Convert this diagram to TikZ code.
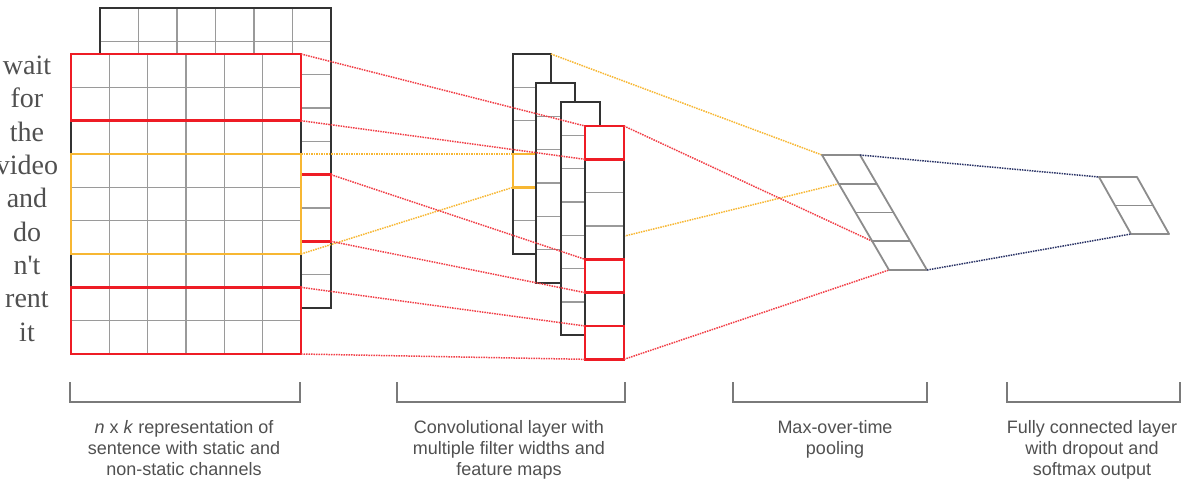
\documentclass[tikz,border=0pt]{standalone}
\usepackage{fontspec}
\setmainfont{Liberation Sans}
\newfontfamily\wordfont{Liberation Serif}
\usepackage{tikz}
\usetikzlibrary{calc}

\definecolor{edgegray}{HTML}{333333}
\definecolor{gridgray}{HTML}{9A9A9A}
\definecolor{boxred}{HTML}{EE1C25}
\definecolor{boxyellow}{HTML}{F7B733}
\definecolor{linknavy}{HTML}{2B3467}
\definecolor{poolgray}{HTML}{8C8C8C}
\definecolor{brgray}{HTML}{7A7A7A}
\definecolor{textgray}{HTML}{505050}

\begin{document}
\begin{tikzpicture}[x=1pt, y=-1pt]
\tikzstyle{sheet}=[rectangle, draw=edgegray, line width=1.8pt, fill=white, inner sep=0pt, outer sep=0pt, anchor=north west]
\tikzstyle{gridline}=[draw=gridgray, line width=1.5pt]
\tikzstyle{border}=[draw=edgegray, line width=1.8pt]
\tikzstyle{redbox}=[rectangle, draw=boxred, line width=2.8pt, inner sep=0pt, outer sep=0pt, anchor=north west]
\tikzstyle{yellowbox}=[redbox, draw=boxyellow]
\tikzstyle{redlink}=[densely dotted, draw=boxred!85, line width=1.5pt]
\tikzstyle{yellowlink}=[redlink, draw=boxyellow]
\tikzstyle{navylink}=[redlink, draw=linknavy]
\tikzstyle{poolline}=[draw=poolgray, line width=1.8pt, line join=round]
\tikzstyle{word}=[font=\wordfont\fontsize{28}{32}\selectfont, text=textgray, anchor=mid]
\tikzstyle{caption}=[font=\fontsize{18}{21}\selectfont, text=textgray, align=center, anchor=north, inner sep=0pt]
\tikzstyle{bracket}=[draw=brgray, line width=1.5pt]

\useasboundingbox (0,0) rectangle (1188,492);

% second channel (behind)
\node[sheet, minimum width=231pt, minimum height=300pt] (back) at (100,8) {};
\foreach \i in {1,...,5} \draw[gridline] (100+\i*38.5,8) -- (100+\i*38.5,308);
\foreach \j in {1,...,8} \draw[gridline] (100,8+\j*33.33) -- (331,8+\j*33.33);
\draw[border] (back.north west) rectangle (back.south east);
\node[redbox, minimum width=30pt, minimum height=66.67pt] (backwin) at (301,174.67) {};

% first channel
\node[sheet, minimum width=230pt, minimum height=300pt] (front) at (71,54) {};
\foreach \i in {1,...,5} \draw[gridline] (71+\i*38.33,54) -- (71+\i*38.33,354);
\foreach \j in {1,...,8} \draw[gridline] (71,54+\j*33.33) -- (301,54+\j*33.33);
\draw[border] (front.north west) rectangle (front.south east);
\node[redbox, minimum width=230pt, minimum height=66.67pt] (win1) at (71,54) {};
\node[yellowbox, minimum width=230pt, minimum height=100pt] (win2) at (71,154) {};
\node[redbox, minimum width=230pt, minimum height=66.67pt] (win3) at (71,287.33) {};

% words
\foreach \w [count=\i from 0] in {wait,for,the,video,and,do,n't,rent,it}
  \node[word] (w\i) at (27,{72+\i*33.33}) {\w};

% pooling cells
\foreach \i in {0,...,4} \coordinate (pool-w\i) at (822+\i*16.75,155+\i*28.75);
\coordinate (pool-ne) at (860,155);
\coordinate (pool-se) at (927,270);

% feature maps
\node[sheet, minimum width=38pt, minimum height=200pt] (map1) at (513,54) {};
\foreach \j in {1,...,5} \draw[gridline] (513,54+\j*33.33) -- (551,54+\j*33.33);
\draw[border] (map1.north west) rectangle (map1.south east);
\node[yellowbox, minimum width=38pt, minimum height=33.33pt] (hit1) at (513,154) {};
\draw[yellowlink] (map1.north east) -- (pool-w0);
\draw[yellowlink] (map1.south east) -- (pool-w1);

\node[sheet, minimum width=39pt, minimum height=200pt] (map2) at (536,83) {};
\foreach \j in {1,...,5} \draw[gridline] (536,83+\j*33.33) -- (575,83+\j*33.33);
\draw[border] (map2.north west) rectangle (map2.south east);

\node[sheet, minimum width=39pt, minimum height=233.33pt] (map3) at (561,102) {};
\foreach \j in {1,...,6} \draw[gridline] (561,102+\j*33.33) -- (600,102+\j*33.33);
\draw[border] (map3.north west) rectangle (map3.south east);

\node[sheet, minimum width=39pt, minimum height=233.33pt] (map4) at (585,126) {};
\foreach \j in {1,...,6} \draw[gridline] (585,126+\j*33.33) -- (624,126+\j*33.33);
\draw[border] (map4.north west) rectangle (map4.south east);
\node[redbox, minimum width=39pt, minimum height=33.33pt] (hit4a) at (585,126) {};
\node[redbox, minimum width=39pt, minimum height=33.33pt] (hit4b) at (585,259.33) {};
\node[redbox, minimum width=39pt, minimum height=33.33pt] (hit4c) at (585,326) {};

% windows to feature maps
\draw[redlink] (win1.north east) -- (hit4a.north west);
\draw[redlink] (win1.south east) -- (hit4a.south west);
\draw[yellowlink] (win2.north east) -- (hit1.north west);
\draw[yellowlink] (win2.south east) -- (hit1.south west);
\draw[redlink] (backwin.north east) -- (hit4b.north west);
\draw[redlink] (backwin.south east) -- (hit4b.south west);
\draw[redlink] (win3.north east) -- (hit4c.north west);
\draw[redlink] (win3.south east) -- (hit4c.south west);

% feature maps to pooling
\draw[redlink] (map4.north east) -- (pool-w3);
\draw[redlink] (map4.south east) -- (pool-w4);

% pooling layer
\draw[poolline] (pool-w0) -- (pool-w4) -- (pool-se) -- (pool-ne) -- cycle;
\foreach \i in {1,...,3} \draw[poolline] (pool-w\i) -- ++(38,0);

% output layer
\coordinate (out-w0) at (1099,177);
\coordinate (out-w1) at (1115,205.5);
\coordinate (out-w2) at (1131,234);
\coordinate (out-ne) at (1137,177);
\coordinate (out-se) at (1169,234);
\draw[poolline] (out-w0) -- (out-w2) -- (out-se) -- (out-ne) -- cycle;
\draw[poolline] (out-w1) -- ++(38,0);
\draw[navylink] (pool-ne) -- (out-w0);
\draw[navylink] (pool-se) -- (out-w2);

% brackets
\draw[bracket] (70,382) -- (70,402) -- (300,402) -- (300,382);
\draw[bracket] (397,382) -- (397,402) -- (625,402) -- (625,382);
\draw[bracket] (733,382) -- (733,402) -- (927,402) -- (927,382);
\draw[bracket] (1007,382) -- (1007,402) -- (1180,402) -- (1180,382);

% captions
\node[caption] (cap1) at (184,420) {\textit{n} x \textit{k} representation of\\sentence with static and\\non-static channels};
\node[caption] (cap2) at (509,420) {Convolutional layer with\\multiple filter widths and\\feature maps};
\node[caption] (cap3) at (835,420) {Max-over-time\\pooling};
\node[caption] (cap4) at (1092,420) {Fully connected layer\\with dropout and\\softmax output};

\end{tikzpicture}
\end{document}
